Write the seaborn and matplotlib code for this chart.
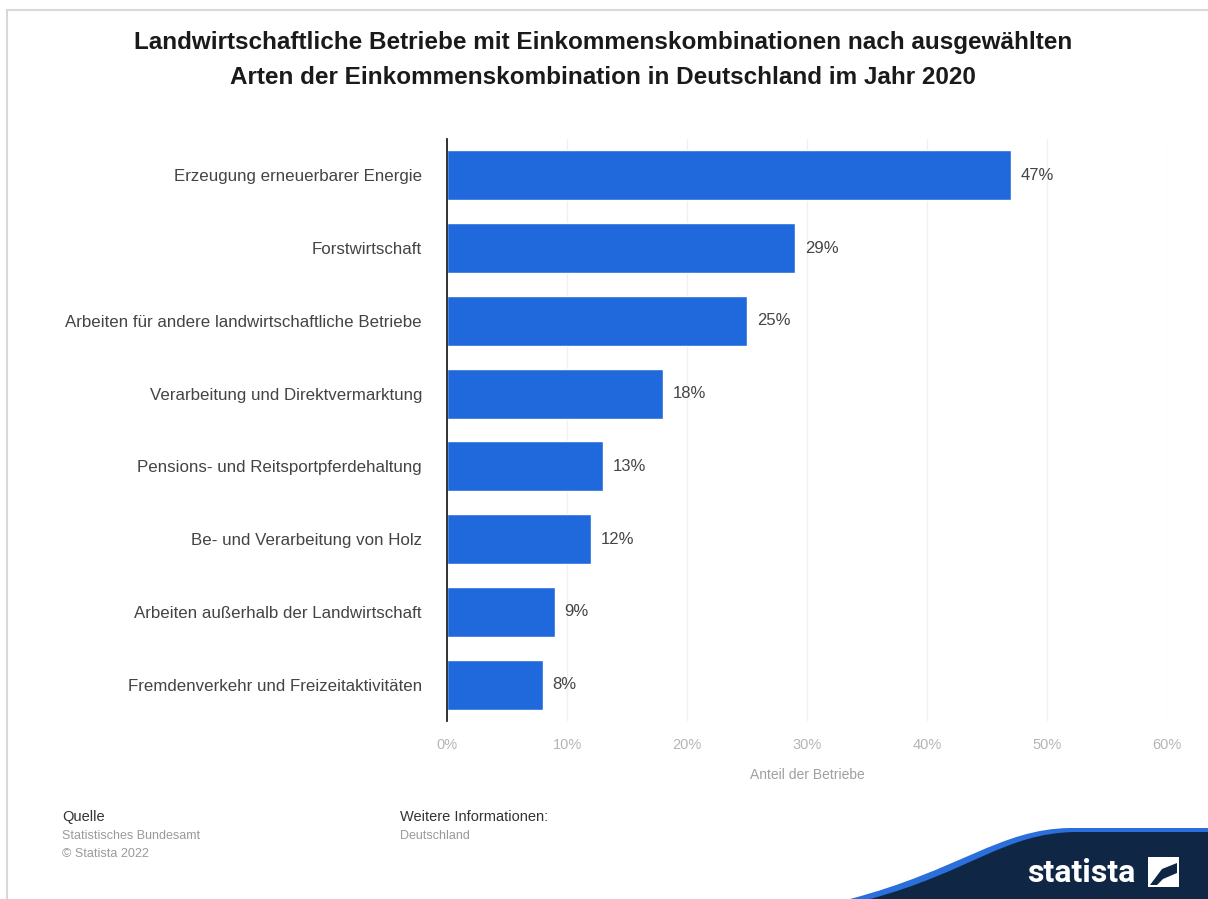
import matplotlib
matplotlib.use("Agg")
import matplotlib.pyplot as plt
import seaborn as sns
import pandas as pd
from matplotlib.path import Path
from matplotlib.patches import PathPatch, Rectangle, Polygon

categories = [
    "Erzeugung erneuerbarer Energie",
    "Forstwirtschaft",
    "Arbeiten für andere landwirtschaftliche Betriebe",
    "Verarbeitung und Direktvermarktung",
    "Pensions- und Reitsportpferdehaltung",
    "Be- und Verarbeitung von Holz",
    "Arbeiten außerhalb der Landwirtschaft",
    "Fremdenverkehr und Freizeitaktivitäten",
]
values = [47, 29, 25, 18, 13, 12, 9, 8]
x_ticks = [0, 10, 20, 30, 40, 50, 60]
x_tick_labels = ["0%", "10%", "20%", "30%", "40%", "50%", "60%"]

title = ("Landwirtschaftliche Betriebe mit Einkommenskombinationen nach ausgewählten\n"
         "Arten der Einkommenskombination in Deutschland im Jahr 2020")
x_label = "Anteil der Betriebe"

df = pd.DataFrame({"Art": categories, "Anteil": values})

sns.set_theme(style="white")
plt.rcParams["font.family"] = ["Liberation Sans", "DejaVu Sans"]

W, H = 1208, 899
fig = plt.figure(figsize=(W / 100, H / 100), dpi=100)
fig.patch.set_facecolor("white")

# outer frame lines (top and left)
fig.add_artist(plt.Line2D([7 / W, 1], [1 - 10 / H, 1 - 10 / H], transform=fig.transFigure,
                          color="#d8d8d8", lw=1.5))
fig.add_artist(plt.Line2D([7 / W, 7 / W], [0, 1 - 10 / H], transform=fig.transFigure,
                          color="#d8d8d8", lw=1.5))

ax = fig.add_axes([447 / W, 1 - 721 / H, (1167 - 447) / W, (721 - 139) / H])
ax.set_facecolor("white")

sns.barplot(data=df, x="Anteil", y="Art", orient="h", color="#1f69dc",
            width=0.69, saturation=1, ax=ax, zorder=3)

ax.set_xlim(0, 60)
ax.set_ylim(7.5, -0.5)
ax.set_xticks(x_ticks)
ax.set_xticklabels(x_tick_labels, color="#b5b5b5", fontsize=10.5)
ax.tick_params(axis="x", length=0, pad=12)
ax.tick_params(axis="y", length=0, pad=18, labelsize=12.2, labelcolor="#444444")
ax.set_ylabel("")
ax.set_xlabel(x_label, color="#a0a0a0", fontsize=10, labelpad=12)
ax.grid(axis="x", color="#f0f0f0", lw=1, zorder=0)
for s in ["top", "right", "bottom"]:
    ax.spines[s].set_visible(False)
ax.spines["left"].set_color("#222222")
ax.spines["left"].set_linewidth(1.3)
ax.spines["left"].set_zorder(4)

for cont in ax.containers:
    ax.bar_label(cont, labels=[f"{v}%" for v in values], padding=7,
                 fontsize=12, color="#444444")

fig.text(603 / W, 1 - 60 / H, title, ha="center", va="center", fontsize=17.5,
         fontweight="bold", color="#1a1a1a", linespacing=1.65)

# footer
fig.text(62 / W, 1 - 817 / H, "Quelle", fontsize=10.5, color="#333333", va="center")
fig.text(62 / W, 1 - 836 / H, "Statistisches Bundesamt", fontsize=9, color="#9a9a9a", va="center")
fig.text(62 / W, 1 - 854 / H, "© Statista 2022", fontsize=9, color="#9a9a9a", va="center")
fig.text(400 / W, 1 - 817 / H, "Weitere Informationen:", fontsize=10.5, color="#333333", va="center")
fig.text(400 / W, 1 - 836 / H, "Deutschland", fontsize=9, color="#9a9a9a", va="center")

# logo band
def fx(x):
    return x / W

def fy(y):
    return 1 - y / H

codes = [Path.MOVETO, Path.CURVE4, Path.CURVE4, Path.CURVE4, Path.LINETO, Path.LINETO, Path.CLOSEPOLY]
edge = [(fx(850), fy(899)), (fx(960), fy(870)), (fx(1000), fy(829)), (fx(1070), fy(828)),
        (fx(1208), fy(828)), (fx(1208), fy(899)), (fx(850), fy(899))]
band = [(fx(870), fy(899)), (fx(970), fy(872)), (fx(1005), fy(833)), (fx(1075), fy(832)),
        (fx(1208), fy(832)), (fx(1208), fy(899)), (fx(870), fy(899))]
fig.add_artist(PathPatch(Path(edge, codes), transform=fig.transFigure, facecolor="#2a6fdc",
                         edgecolor="none"))
fig.add_artist(PathPatch(Path(band, codes), transform=fig.transFigure, facecolor="#0f2745",
                         edgecolor="none"))
fig.text(fx(1027), fy(873), "statista", fontsize=23, fontweight="bold", color="white",
         va="center", ha="left", family=["Roboto", "DejaVu Sans"])
fig.add_artist(Rectangle((fx(1148), fy(887)), fx(31), 30 / H, transform=fig.transFigure,
                         facecolor="white", edgecolor="none"))
fig.add_artist(Polygon([(fx(1150), fy(885)), (fx(1162), fy(869)), (fx(1177), fy(863)),
                        (fx(1177), fy(873)), (fx(1163), fy(879)), (fx(1157), fy(885))],
                       closed=True, transform=fig.transFigure, facecolor="#0f2745",
                       edgecolor="none"))

fig.savefig("out.png", dpi=100, facecolor=fig.get_facecolor())
